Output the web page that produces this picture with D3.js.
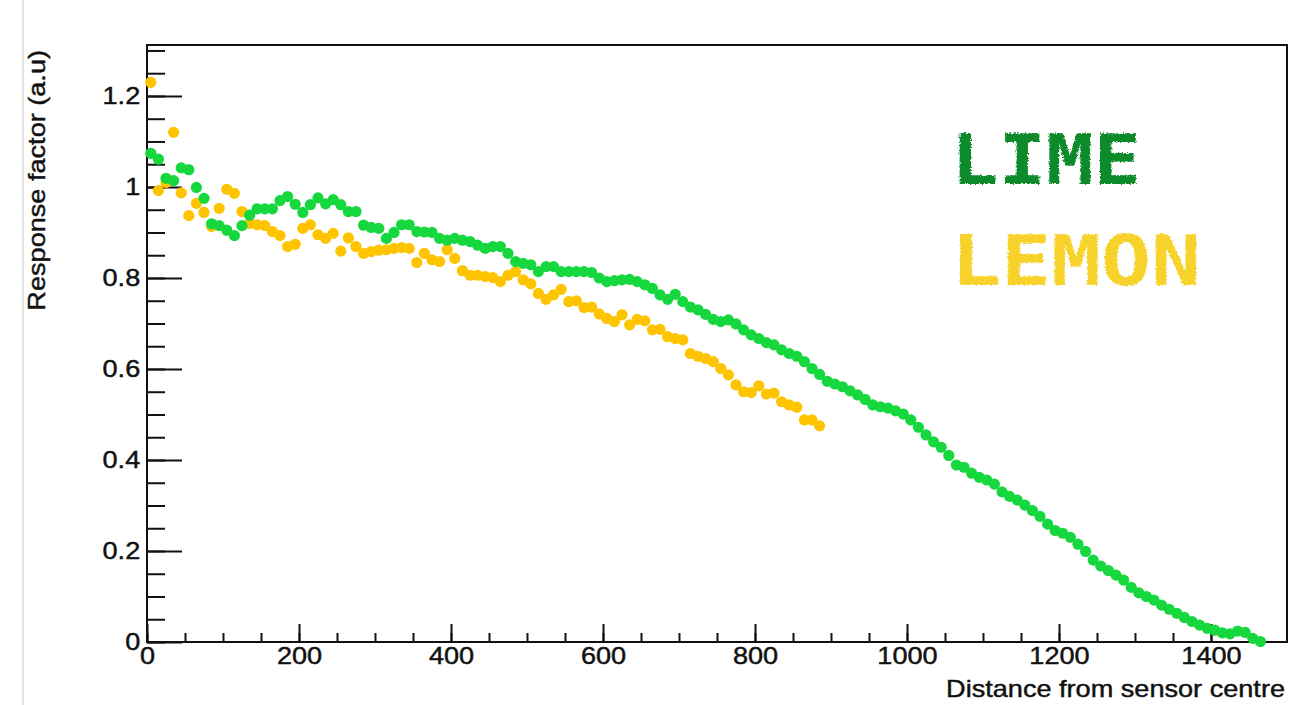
<!DOCTYPE html>
<html>
<head>
<meta charset="utf-8">
<script src="https://cdn.jsdelivr.net/npm/d3@7"></script>
<style>
    html, body { margin: 0; padding: 0; background: #fff; }
    svg { display: block; font-family: "Liberation Sans", Arial, Helvetica, sans-serif; }
    .axis text { font-size: 24px; fill: #111; stroke: #111; stroke-width: 0.45px; }
    .axis line { stroke: #111; stroke-width: 2; }
    .axis path { display: none; }
    .title { font-size: 24px; fill: #111; stroke: #111; stroke-width: 0.45px; }
</style>
</head>
<body>
<div id="chart"></div>
<script>
// distance from sensor centre (same grid for both series, lemon stops earlier)
const distances = [
    5, 15, 25, 35, 45, 55, 65, 75, 85, 95, 105, 115, 125, 135, 145, 155, 165, 175, 185, 195,
    205, 215, 225, 235, 245, 255, 265, 275, 285, 295, 305, 315, 325, 335, 345, 355, 365, 375, 385, 395,
    405, 415, 425, 435, 445, 455, 465, 475, 485, 495, 505, 515, 525, 535, 545, 555, 565, 575, 585, 595,
    605, 615, 625, 635, 645, 655, 665, 675, 685, 695, 705, 715, 725, 735, 745, 755, 765, 775, 785, 795,
    805, 815, 825, 835, 845, 855, 865, 875, 885, 895, 905, 915, 925, 935, 945, 955, 965, 975, 985, 995,
    1005, 1015, 1025, 1035, 1045, 1055, 1065, 1075, 1085, 1095, 1105, 1115, 1125, 1135, 1145, 1155, 1165, 1175, 1185, 1195,
    1205, 1215, 1225, 1235, 1245, 1255, 1265, 1275, 1285, 1295, 1305, 1315, 1325, 1335, 1345, 1355, 1365, 1375, 1385, 1395,
    1405, 1415, 1425, 1435, 1445, 1455, 1465
];

const limeResponse = [
    1.074, 1.061, 1.019, 1.014, 1.042, 1.038, 0.999, 0.975, 0.919, 0.915, 0.905, 0.893, 0.915, 0.938, 0.952, 0.952, 0.952, 0.970, 0.979, 0.962,
    0.944, 0.961, 0.976, 0.963, 0.972, 0.961, 0.946, 0.946, 0.916, 0.911, 0.909, 0.887, 0.900, 0.917, 0.917, 0.902, 0.901, 0.900, 0.887, 0.883,
    0.887, 0.883, 0.880, 0.872, 0.865, 0.869, 0.869, 0.854, 0.836, 0.832, 0.829, 0.814, 0.825, 0.825, 0.814, 0.814, 0.814, 0.814, 0.812, 0.800,
    0.792, 0.794, 0.796, 0.797, 0.792, 0.785, 0.777, 0.763, 0.753, 0.764, 0.748, 0.736, 0.730, 0.720, 0.709, 0.704, 0.708, 0.699, 0.686, 0.675,
    0.667, 0.658, 0.653, 0.642, 0.634, 0.628, 0.616, 0.601, 0.588, 0.573, 0.567, 0.561, 0.552, 0.543, 0.533, 0.521, 0.517, 0.514, 0.508, 0.501,
    0.488, 0.472, 0.455, 0.440, 0.428, 0.410, 0.389, 0.384, 0.371, 0.362, 0.356, 0.347, 0.330, 0.320, 0.312, 0.301, 0.289, 0.276, 0.259, 0.245,
    0.239, 0.230, 0.215, 0.199, 0.180, 0.167, 0.157, 0.147, 0.136, 0.120, 0.108, 0.100, 0.092, 0.081, 0.072, 0.063, 0.054, 0.045, 0.037, 0.030,
    0.026, 0.020, 0.018, 0.024, 0.021, 0.008, 0.001
];

const lemonResponse = [
    1.230, 0.992, 1.010, 1.120, 0.987, 0.937, 0.964, 0.944, 0.913, 0.953, 0.995, 0.986, 0.946, 0.920, 0.917, 0.915, 0.902, 0.893, 0.869, 0.874,
    0.909, 0.917, 0.895, 0.887, 0.898, 0.859, 0.888, 0.869, 0.854, 0.858, 0.861, 0.862, 0.865, 0.867, 0.865, 0.834, 0.854, 0.840, 0.836, 0.862,
    0.843, 0.816, 0.806, 0.806, 0.803, 0.801, 0.792, 0.806, 0.814, 0.796, 0.787, 0.766, 0.753, 0.763, 0.775, 0.748, 0.750, 0.735, 0.736, 0.721,
    0.711, 0.704, 0.719, 0.697, 0.709, 0.706, 0.686, 0.687, 0.671, 0.667, 0.664, 0.634, 0.628, 0.623, 0.616, 0.601, 0.587, 0.565, 0.550, 0.548,
    0.563, 0.545, 0.547, 0.528, 0.521, 0.516, 0.488, 0.488, 0.475
];

const xTicks = [0, 200, 400, 600, 800, 1000, 1200, 1400];
const yTicks = [0, 0.2, 0.4, 0.6, 0.8, 1, 1.2];
const seriesNames = ['LIME', 'LEMON'];

const COLORS = {
    lime: '#16d83e',
    lemon: '#ffc400',
    limeLabel: '#0c8b2b',
    lemonLabel: '#f6d22c'
};

const width = 1302;
const height = 705;
const margin = { top: 45, right: 15, bottom: 63, left: 147 };
const textStretch = 'scale(1.13,1)';
const pointRadius = 5.6;

const svg = d3.select('#chart')
    .append('svg')
    .attr('width', width)
    .attr('height', height);

// rough edge filter for the chalk-like labels
const defs = svg.append('defs');
const chalk = defs.append('filter').attr('id', 'chalk')
    .attr('x', '-5%').attr('y', '-10%').attr('width', '110%').attr('height', '120%');
chalk.append('feTurbulence')
    .attr('type', 'fractalNoise')
    .attr('baseFrequency', 0.6)
    .attr('numOctaves', 2)
    .attr('result', 'noise');
chalk.append('feDisplacementMap')
    .attr('in', 'SourceGraphic')
    .attr('in2', 'noise')
    .attr('scale', 4)
    .attr('xChannelSelector', 'R')
    .attr('yChannelSelector', 'G');

// faint page edge on the left of the original screenshot
svg.append('line')
    .attr('x1', 23).attr('x2', 23)
    .attr('y1', 0).attr('y2', height)
    .attr('stroke', '#dadada')
    .attr('stroke-width', 1.5);

const x = d3.scaleLinear()
    .domain([0, 1500])
    .range([margin.left, width - margin.right]);

const y = d3.scaleLinear()
    .domain([0, 1.312])
    .range([height - margin.bottom, margin.top]);

// minor ticks
svg.append('g')
    .attr('class', 'axis')
    .attr('transform', `translate(${margin.left},0)`)
    .call(d3.axisLeft(y)
        .tickValues(d3.range(0, 1.31, 0.05))
        .tickSize(-18)
        .tickFormat(''));

svg.append('g')
    .attr('class', 'axis')
    .attr('transform', `translate(0,${height - margin.bottom})`)
    .call(d3.axisBottom(x)
        .tickValues(d3.range(0, 1500, 50))
        .tickSize(-9)
        .tickFormat(''));

// major ticks with labels
const yAxis = svg.append('g')
    .attr('class', 'axis')
    .attr('transform', `translate(${margin.left},0)`)
    .call(d3.axisLeft(y)
        .tickValues(yTicks)
        .tickSize(-35)
        .tickPadding(6)
        .tickFormat(d3.format('~g')));
yAxis.selectAll('text').attr('transform', textStretch);

const xAxis = svg.append('g')
    .attr('class', 'axis')
    .attr('transform', `translate(0,${height - margin.bottom})`)
    .call(d3.axisBottom(x)
        .tickValues(xTicks)
        .tickSize(-18)
        .tickPadding(5)
        .tickFormat(d3.format('d')));
xAxis.selectAll('text').attr('transform', textStretch);

// frame
svg.append('rect')
    .attr('x', margin.left)
    .attr('y', margin.top)
    .attr('width', width - margin.right - margin.left)
    .attr('height', height - margin.bottom - margin.top)
    .attr('fill', 'none')
    .attr('stroke', '#111')
    .attr('stroke-width', 2);

// axis titles
svg.append('text')
    .attr('class', 'title')
    .attr('transform', `translate(1285,697) ${textStretch}`)
    .attr('text-anchor', 'end')
    .text('Distance from sensor centre');

svg.append('text')
    .attr('class', 'title')
    .attr('transform', `translate(45,50) rotate(-90) ${textStretch}`)
    .attr('text-anchor', 'end')
    .text('Response factor (a.u)');

// data points
const lemonPoints = lemonResponse.map((v, i) => ({ d: distances[i], v }));
const limePoints = limeResponse.map((v, i) => ({ d: distances[i], v }));

svg.append('g')
    .selectAll('circle')
    .data(lemonPoints)
    .join('circle')
    .attr('cx', p => x(p.d))
    .attr('cy', p => y(p.v))
    .attr('r', pointRadius)
    .attr('fill', COLORS.lemon);

svg.append('g')
    .selectAll('circle')
    .data(limePoints)
    .join('circle')
    .attr('cx', p => x(p.d))
    .attr('cy', p => y(p.v))
    .attr('r', pointRadius)
    .attr('fill', COLORS.lime);

// hand-drawn style legend
const legend = svg.append('g').attr('filter', 'url(#chalk)');
legend.append('text')
    .attr('x', 951)
    .attr('y', 184)
    .attr('font-family', '"DejaVu Sans Mono", monospace')
    .attr('font-weight', 'bold')
    .attr('font-size', 70)
    .attr('textLength', 190)
    .attr('lengthAdjust', 'spacingAndGlyphs')
    .attr('fill', COLORS.limeLabel)
    .text(seriesNames[0]);

legend.append('text')
    .attr('x', 951)
    .attr('y', 285)
    .attr('font-family', '"DejaVu Sans Mono", monospace')
    .attr('font-weight', 'bold')
    .attr('font-size', 70)
    .attr('textLength', 250)
    .attr('lengthAdjust', 'spacingAndGlyphs')
    .attr('fill', COLORS.lemonLabel)
    .text(seriesNames[1]);
</script>
</body>
</html>
